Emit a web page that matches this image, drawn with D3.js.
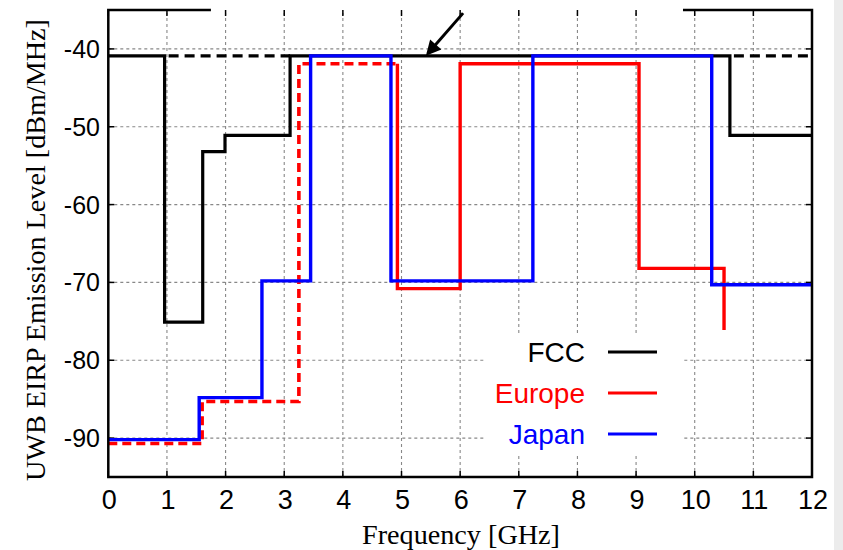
<!DOCTYPE html>
<html>
<head>
<meta charset="utf-8">
<script src="https://cdn.jsdelivr.net/npm/d3@7"></script>
<style>
  body { margin: 0; background: #fff; }
  svg { display: block; }
</style>
</head>
<body>
<div id="main"></div>
<script>
// step edges (GHz) and levels (dBm/MHz)
var fccEdges = [0, 0.96, 1.61, 1.99, 3.1, 10.6, 12];
var fccLevels = [-40.9, -75.1, -53.2, -51.1, -40.9, -51.1];
var fccDashed = [[0.96, 3.1], [10.6, 12]];   // dashed -40.9 limit
var fccDashLevel = -40.9;

var euEdges = [0, 1.6, 3.25, 4.93, 6.0, 9.05, 10.5];
var euLevels = [-90.7, -85.3, -41.9, -70.8, -41.9, -68.2];
var euTail = -76.1;          // drop at the last edge
var euDashedUpTo = 4.93;     // red is dashed below this frequency

var jpEdges = [0, 1.55, 2.62, 3.45, 4.82, 7.24, 10.29, 12];
var jpLevels = [-90.2, -84.8, -69.8, -40.9, -69.8, -40.9, -70.3];

var xTicks = d3.range(0, 13);
var yTicks = [-90, -80, -70, -60, -50, -40];

var legendNames = ['FCC', 'Europe', 'Japan'];
var legendColors = ['#000', '#ff0000', '#0000ff'];

var arrowFrom = [6.05, -35.4], arrowTo = [5.45, -40.6];
var topGap = [1.75, 9.8];

var width = 843, height = 550;
var svg = d3.select('#main').append('svg')
    .attr('width', width)
    .attr('height', height);

svg.append('rect').attr('x', 834).attr('y', 0).attr('width', 9).attr('height', height).attr('fill', '#ececec');

var x = d3.scaleLinear().domain([0, 12]).range([108.3, 812]);
var y = d3.scaleLinear().domain([-95, -35]).range([477, 10]);

// grid
var grid = svg.append('g').attr('class', 'grid');
grid.selectAll('.vg').data(xTicks.slice(1, -1)).enter().append('line')
    .attr('x1', function(d) { return x(d); }).attr('x2', function(d) { return x(d); })
    .attr('y1', y(-95)).attr('y2', y(-35) + 3)
    .attr('stroke', '#888').attr('stroke-width', 1.1).attr('stroke-dasharray', '3,3');
grid.selectAll('.hg').data(yTicks).enter().append('line')
    .attr('x1', x(0)).attr('x2', x(12))
    .attr('y1', function(d) { return y(d); }).attr('y2', function(d) { return y(d); })
    .attr('stroke', '#888').attr('stroke-width', 1.1).attr('stroke-dasharray', '3,3');

// ticks inside the frame
var tk = svg.append('g').attr('stroke', '#000').attr('stroke-width', 1.5);
xTicks.forEach(function(d) {
  tk.append('line').attr('x1', x(d)).attr('x2', x(d)).attr('y1', y(-95)).attr('y2', y(-95) - 6);
  tk.append('line').attr('x1', x(d)).attr('x2', x(d)).attr('y1', y(-35)).attr('y2', y(-35) + 6);
});
yTicks.forEach(function(d) {
  tk.append('line').attr('x1', x(0)).attr('x2', x(0) + 6).attr('y1', y(d)).attr('y2', y(d));
  tk.append('line').attr('x1', x(12)).attr('x2', x(12) - 6).attr('y1', y(d)).attr('y2', y(d));
});

// legend background hides the grid
svg.append('rect').attr('x', 485).attr('y', 335).attr('width', 198).attr('height', 118).attr('fill', '#fff');

function stepPoints(edges, levels) {
  var pts = levels.map(function(v, i) { return [edges[i], v]; });
  pts.push([edges[edges.length - 1], levels[levels.length - 1]]);
  return pts;
}

var line = d3.line()
    .x(function(d) { return x(d[0]); })
    .y(function(d) { return y(d[1]); })
    .curve(d3.curveStepAfter);

var plot = svg.append('g').attr('fill', 'none').attr('stroke-linejoin', 'miter');

// FCC
plot.append('path').attr('d', line(stepPoints(fccEdges, fccLevels)))
    .attr('stroke', '#000').attr('stroke-width', 3.2);
plot.selectAll('.fccd').data(fccDashed).enter().append('path')
    .attr('d', function(d) { return line([[d[0], fccDashLevel], [d[1], fccDashLevel]]); })
    .attr('stroke', '#000').attr('stroke-width', 3.2).attr('stroke-dasharray', '10,6')
    .attr('stroke-dashoffset', -4);

// Europe
var euPts = stepPoints(euEdges, euLevels);
euPts.push([euEdges[euEdges.length - 1], euTail]);
var cut = euPts.findIndex(function(p) { return p[0] >= euDashedUpTo; });
var euDash = euPts.slice(0, cut).concat([[euDashedUpTo, euPts[cut - 1][1]]]);
var euSolid = [[euDashedUpTo, euPts[cut - 1][1]]].concat(euPts.slice(cut));
plot.append('path').attr('d', line(euDash))
    .attr('stroke', '#ff0000').attr('stroke-width', 3.6).attr('stroke-dasharray', '9,5');
plot.append('path').attr('d', line(euSolid))
    .attr('stroke', '#ff0000').attr('stroke-width', 3.4);

// Japan
plot.append('path').attr('d', line(stepPoints(jpEdges, jpLevels)))
    .attr('stroke', '#0000ff').attr('stroke-width', 3.4);

// frame
var fr = svg.append('g').attr('stroke', '#000').attr('stroke-width', 2.5).attr('fill', 'none');
fr.append('path').attr('d', 'M' + x(topGap[0]) + ',' + y(-35) + 'H' + x(0) + 'V' + y(-95) + 'H' + x(12) + 'V' + y(-35) + 'H' + x(topGap[1]));

// arrow
svg.append('defs').append('marker')
    .attr('id', 'ah').attr('viewBox', '0 0 10 10').attr('refX', 8).attr('refY', 5)
    .attr('markerWidth', 6.5).attr('markerHeight', 5).attr('orient', 'auto')
  .append('path').attr('d', 'M0,0L10,5L0,10z').attr('fill', '#000');
svg.append('line')
    .attr('x1', x(arrowFrom[0])).attr('y1', y(arrowFrom[1]))
    .attr('x2', x(arrowTo[0])).attr('y2', y(arrowTo[1]))
    .attr('stroke', '#000').attr('stroke-width', 3).attr('marker-end', 'url(#ah)');

// tick labels
var sans = 'Liberation Sans, Arial, Helvetica, sans-serif';
var serif = 'Liberation Serif, Times New Roman, serif';
svg.append('g').selectAll('text').data(xTicks).enter().append('text')
    .attr('x', function(d) { return x(d) + 1; }).attr('y', 509)
    .attr('text-anchor', 'middle').attr('font-family', sans).attr('font-size', 27)
    .text(function(d) { return d; });
svg.append('g').selectAll('text').data(yTicks).enter().append('text')
    .attr('x', 100).attr('y', function(d) { return y(d) + 9; })
    .attr('text-anchor', 'end').attr('font-family', sans).attr('font-size', 25)
    .text(function(d) { return d; });

// axis titles
svg.append('text').attr('x', 461).attr('y', 544)
    .attr('text-anchor', 'middle').attr('font-family', serif).attr('font-size', 28)
    .attr('textLength', 198).attr('lengthAdjust', 'spacingAndGlyphs')
    .text('Frequency [GHz]');
svg.append('text').attr('transform', 'translate(45,250) rotate(-90)')
    .attr('text-anchor', 'middle').attr('font-family', serif).attr('font-size', 28)
    .attr('textLength', 462).attr('lengthAdjust', 'spacingAndGlyphs')
    .text('UWB EIRP Emission Level [dBm/MHz]');

// legend
var lg = svg.append('g').selectAll('g').data(legendNames).enter().append('g')
    .attr('transform', function(d, i) { return 'translate(0,' + (352 + i * 41) + ')'; });
lg.append('text').attr('x', 585).attr('y', 10)
    .attr('text-anchor', 'end').attr('font-family', sans).attr('font-size', 28)
    .attr('fill', function(d, i) { return legendColors[i]; })
    .text(function(d) { return d; });
lg.append('line').attr('x1', 608).attr('x2', 657).attr('y1', 0).attr('y2', 0)
    .attr('stroke', function(d, i) { return legendColors[i]; }).attr('stroke-width', 3.2);
</script>
</body>
</html>
